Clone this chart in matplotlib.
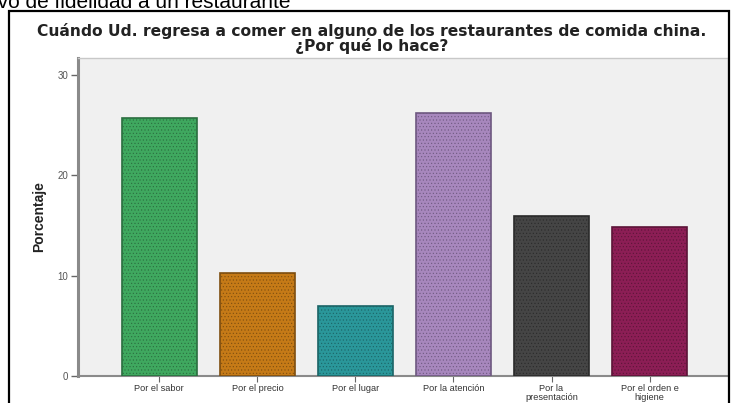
import matplotlib
matplotlib.use("Agg")
import matplotlib.pyplot as plt
from matplotlib.patches import Rectangle

plt.rcParams['font.family'] = ['Liberation Sans', 'DejaVu Sans']
plt.rcParams['hatch.linewidth'] = 0.4

# motivos de regreso y porcentaje de respuestas
categorias = ['Por el sabor', 'Por el precio', 'Por el lugar', 'Por la atención',
              'Por la\npresentación', 'Por el orden e\nhigiene']
porcentajes = [25.7, 10.3, 7.0, 26.2, 15.9, 14.9]
colores = ['#3fa85f', '#c57a17', '#2a979a', '#a787bd', '#454545', '#8c1e55']
bordes = ['#2a6e3f', '#7e4e10', '#1b6466', '#6e5880', '#2a2a2a', '#5c1438']
y_ticks = [0, 10, 20, 30]

W, H = 731, 403
fig = plt.figure(figsize=(W / 100, H / 100), dpi=100)
fig.patch.set_facecolor('white')

# texto del documento, cortado arriba
fig.text(291 / W, (H - 8) / H, 'Motivo de fidelidad a un restaurante',
         ha='right', va='baseline', fontsize=15, color='black')

# marco negro alrededor del gráfico
fig.patches.append(Rectangle((9 / W, -0.05), (729 - 9) / W, (H - 11) / H + 0.05,
                             transform=fig.transFigure, fill=False,
                             edgecolor='black', linewidth=1.6, clip_on=False))

titulo = dict(ha='center', va='center', fontsize=11.2, fontweight='bold',
              color='#222222', family='DejaVu Sans')
fig.text(372 / W, (H - 31) / H,
         'Cuándo Ud. regresa a comer en alguno de los restaurantes de comida china.',
         **titulo)
fig.text(372 / W, (H - 46) / H, '¿Por qué lo hace?', **titulo)

ax = fig.add_axes([78 / W, (H - 376) / H, (728 - 78) / W, (376 - 58) / H])
ax.set_facecolor('#f0f0f0')

x = range(len(categorias))
ax.bar(x, porcentajes, width=0.77, color=colores, edgecolor=bordes,
       linewidth=1.2, hatch='.....', zorder=3)

ax.set_xlim(-0.83, 5.8)
ax.set_ylim(0, 31.7)
ax.set_yticks(y_ticks)
ax.set_yticklabels([str(v) for v in y_ticks], fontsize=7, color='#555555')
ax.set_xticks(list(x))
ax.set_xticklabels(categorias, fontsize=6.6, color='#333333', linespacing=1.0)
ax.tick_params(axis='y', length=5, width=1, color='#666666', pad=2)
ax.tick_params(axis='x', length=4, width=0.8, color='#666666', pad=2)

ax.set_ylabel('Porcentaje', fontsize=10, fontweight='bold', color='#222222', labelpad=8)

for side in ['top', 'right']:
    ax.spines[side].set_color('#c8c8c8')
    ax.spines[side].set_linewidth(1)
ax.spines['left'].set_color('#8a8a8a')
ax.spines['left'].set_linewidth(2.2)
ax.spines['bottom'].set_color('#8a8a8a')
ax.spines['bottom'].set_linewidth(1.5)

fig.savefig('out.png', dpi=100)
